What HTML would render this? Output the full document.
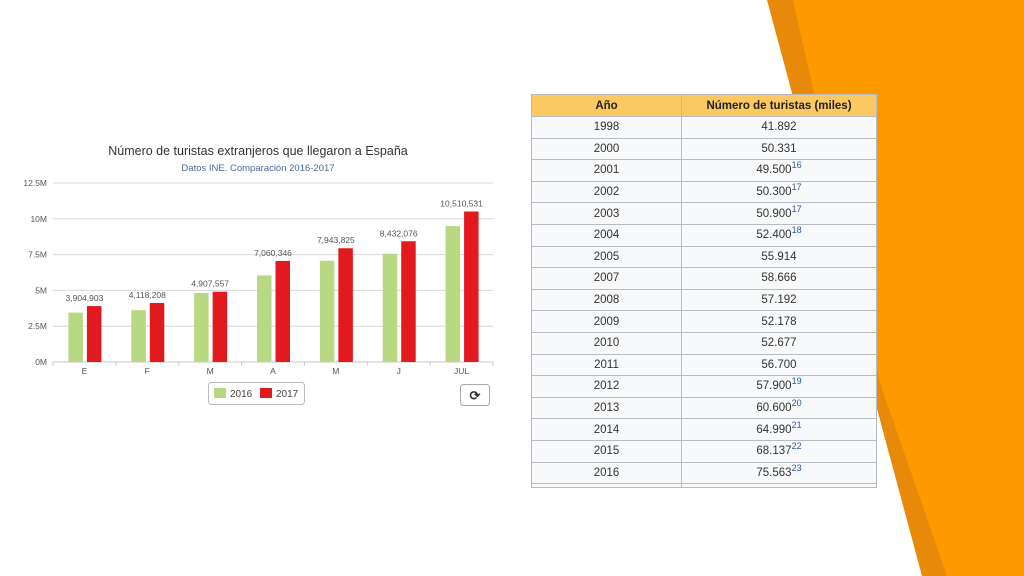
<!DOCTYPE html>
<html><head><meta charset="utf-8">
<style>
body{margin:0;width:1024px;height:576px;overflow:hidden;background:#fff;font-family:"Liberation Sans",sans-serif;position:relative}
#bg{position:absolute;left:0;top:0}
#tbl{position:absolute;left:531px;top:94px;width:346px;border-collapse:collapse;font-size:11.5px;color:#333;background:#f8f9fa}
#tbl td,#tbl th{border:1px solid #b8bcc2;height:20.6px;padding:0;text-align:center}
#tbl th{background:#fcc862;font-weight:bold;color:#222;height:21px}
#tbl td:first-child{width:149px}
sup{color:#3056a8;font-size:9px;vertical-align:5px;line-height:0}
#chart{position:absolute;left:0;top:0}
</style></head><body>
<svg id="bg" width="1024" height="576">
<polygon points="767,0 1024,0 1024,576 922,576" fill="#e8890a"/>
<polygon points="793,0 1024,0 1024,576 947,576 880,383" fill="#fe9a00"/>
</svg>
<table id="tbl">
<tr><th>Año</th><th>Número de turistas (miles)</th></tr>
<tr><td>1998</td><td>41.892</td></tr>
<tr><td>2000</td><td>50.331</td></tr>
<tr><td>2001</td><td>49.500<sup>16</sup></td></tr>
<tr><td>2002</td><td>50.300<sup>17</sup></td></tr>
<tr><td>2003</td><td>50.900<sup>17</sup></td></tr>
<tr><td>2004</td><td>52.400<sup>18</sup></td></tr>
<tr><td>2005</td><td>55.914</td></tr>
<tr><td>2007</td><td>58.666</td></tr>
<tr><td>2008</td><td>57.192</td></tr>
<tr><td>2009</td><td>52.178</td></tr>
<tr><td>2010</td><td>52.677</td></tr>
<tr><td>2011</td><td>56.700</td></tr>
<tr><td>2012</td><td>57.900<sup>19</sup></td></tr>
<tr><td>2013</td><td>60.600<sup>20</sup></td></tr>
<tr><td>2014</td><td>64.990<sup>21</sup></td></tr>
<tr><td>2015</td><td>68.137<sup>22</sup></td></tr>
<tr><td>2016</td><td>75.563<sup>23</sup></td></tr>
<tr><td style="height:3px"></td><td style="height:3px"></td></tr>
</table>
<svg id="chart" width="520" height="420"></svg>
<script>
const categories=["E","F","M","A","M","J","JUL"];
const values2016=[3450000,3620000,4820000,6050000,7070000,7560000,9490000];
const values2017=[3904903,4118208,4907557,7060346,7943825,8432076,10510531];
const yTicks=[0,2500000,5000000,7500000,10000000,12500000];
const yTickLabels=["0M","2.5M","5M","7.5M","10M","12.5M"];
const NS="http://www.w3.org/2000/svg";
const svg=document.getElementById('chart');
const x0=53,x1=493,y0=362,y1=183,yMax=12500000;
const band=(x1-x0)/categories.length;
const y=v=>y0-(v/yMax)*(y0-y1);
function mk(t,a,txt){const e=document.createElementNS(NS,t);for(const k in a)e.setAttribute(k,a[k]);if(txt!==undefined)e.textContent=txt;svg.appendChild(e);return e;}
let e;
e=mk('text',{x:258,y:155,'text-anchor':'middle','font-size':12.5,fill:'#333'},'Número de turistas extranjeros que llegaron a España');


e=mk('text',{x:258,y:171,'text-anchor':'middle','font-size':9.5,fill:'#4a6a9a'},'Datos INE. Comparación 2016-2017');


yTicks.forEach((t,i)=>{
 e=mk('line',{x1:x0,x2:x1,y1:y(t),y2:y(t),stroke:i?'#d8d8d8':'#c8c8c8','stroke-width':1});
 
 
 e=mk('text',{x:47,y:y(t)+3,'text-anchor':'end','font-size':8.5,fill:'#555'},yTickLabels[i]);
 
 
});
categories.forEach((c,i)=>{
 const cx=x0+band*(i+0.5);
 e=mk('line',{x1:x0+band*i,x2:x0+band*i,y1:y0,y2:y0+4,stroke:'#ccc'});
 
 
 e=mk('text',{x:cx,y:y0+12,'text-anchor':'middle','font-size':8.5,fill:'#555'},c);
 
 
 e=mk('rect',{x:cx-16,y:y(values2016[i]),width:14.5,height:y0-y(values2016[i]),fill:'#b8d882'});
 
 
 e=mk('rect',{x:cx+2.5,y:y(values2017[i]),width:14.5,height:y0-y(values2017[i]),fill:'#e2191e'});
 
 
 e=mk('text',{x:cx,y:y(values2017[i])-5,'text-anchor':'middle','font-size':8.5,fill:'#555'},values2017[i].toLocaleString('en-US'));
 
 
});
e=mk('line',{x1:x1,x2:x1,y1:y0,y2:y0+4,stroke:'#ccc'});


e=mk('rect',{x:208.5,y:382.5,width:96,height:22,rx:3,fill:'#fff',stroke:'#bbb'});


e=mk('rect',{x:214,y:388,width:12,height:10,fill:'#b8d882'});


e=mk('text',{x:230,y:397,'font-size':10,fill:'#444'},'2016');


e=mk('rect',{x:260,y:388,width:12,height:10,fill:'#e2191e'});


e=mk('text',{x:276,y:397,'font-size':10,fill:'#444'},'2017');


e=mk('rect',{x:460.5,y:384.5,width:29,height:21,rx:3,fill:'#fff',stroke:'#aaa'});


e=mk('text',{x:475,y:400,'text-anchor':'middle','font-size':13,'font-weight':'bold',fill:'#333'},'⟳');


</script>
</body></html>
